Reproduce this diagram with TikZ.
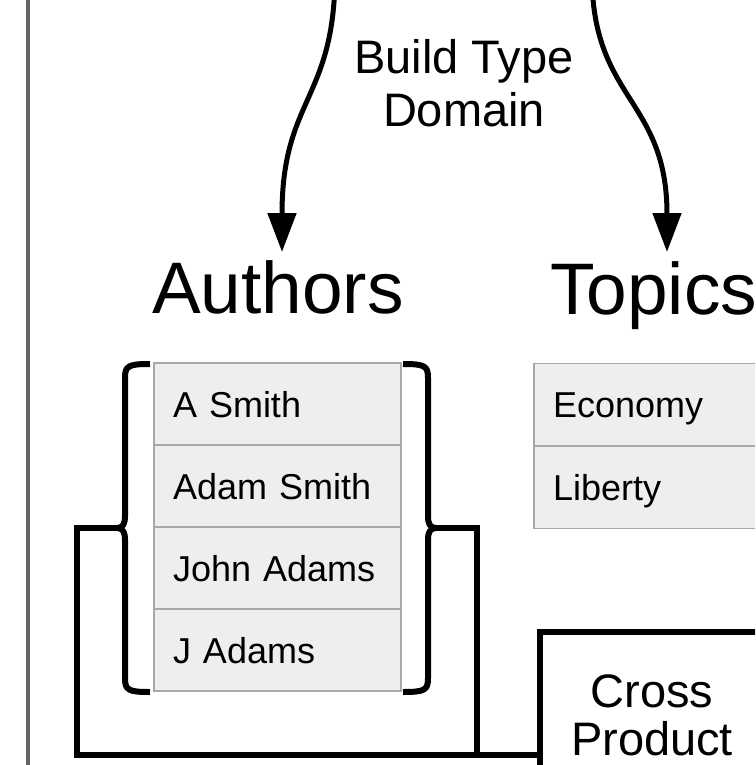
\documentclass[tikz,border=0pt]{standalone}
\usepackage{fontspec}
\setmainfont{Liberation Sans}
\usetikzlibrary{arrows.meta}
\definecolor{cellfill}{HTML}{EEEEEE}
\definecolor{cellline}{HTML}{A8A8A8}
\definecolor{divider}{HTML}{666666}
\begin{document}
\begin{tikzpicture}[x=1pt,y=-1pt,
  cell/.style={rectangle, draw=cellline, fill=cellfill, line width=1.5pt,
    minimum width=247pt, minimum height=82pt, text width=209pt,
    inner xsep=19pt, inner ysep=0pt, align=left,
    text height=26pt, text depth=0pt, font=\fontsize{36}{40}\selectfont},
  title/.style={inner sep=0pt, font=\fontsize{73}{80}\selectfont},
  lbl/.style={inner sep=0pt, align=center,
    font=\fontsize{47}{53}\selectfont},
  boxnode/.style={rectangle, draw, line width=5.5pt, minimum width=224pt,
    minimum height=176pt, inner sep=0pt, align=center,
    text height=84pt, text depth=14pt, font=\fontsize{47}{47.5}\selectfont},
  arr/.style={line width=5pt, -{Triangle[length=39pt,width=28pt]}},
  bracestyle/.style={line width=6pt},
  conn/.style={line width=5.5pt},
  divline/.style={draw=divider, line width=4pt}]
\useasboundingbox (0,0) rectangle (755,765);
\clip (0,0) rectangle (755,765);
\fill[white] (0,0) rectangle (755,765);

% divider
\draw[divline] (28,-5) -- (28,770);

% label and arrows
\node[lbl, anchor=base] (btd) at (464,127) {Build Type\\Domain};
\coordinate (srcL) at (335,-20);
\coordinate (srcR) at (592,-20);
\coordinate (tipL) at (282,252);
\coordinate (tipR) at (667,252);
\draw[arr] (srcL) .. controls (333,100) and (282,100) .. (tipL);
\draw[arr] (srcR) .. controls (594,100) and (667,100) .. (tipR);

% titles
\node[title, anchor=base west] (authors) at (152,313) {Authors};
\node[title, anchor=base west] (topics) at (550,314) {Topics};

% authors list
\node[cell] (a1) at (277.5,404) {A Smith};
\node[cell] (a2) at (277.5,486) {Adam Smith};
\node[cell] (a3) at (277.5,568) {John Adams};
\node[cell] (a4) at (277.5,650) {J Adams};

% topics list
\node[cell] (t1) at (657.5,404.5) {Economy};
\node[cell] (t2) at (657.5,487.5) {Liberty};

% brackets
\draw[bracestyle] (150,364) .. controls (128,364) and (125,366) .. (125,378)
  -- (125,516) .. controls (125,524) and (123,527) .. (118,528)
  .. controls (123,529) and (125,532) .. (125,540)
  -- (125,678) .. controls (125,690) and (128,692) .. (150,692);
\draw[bracestyle] (403,364) .. controls (425,364) and (428,366) .. (428,378)
  -- (428,516) .. controls (428,524) and (430,527) .. (435,528)
  .. controls (430,529) and (428,532) .. (428,540)
  -- (428,678) .. controls (428,690) and (425,692) .. (403,692);
\coordinate (lbtip) at (118,528);
\coordinate (rbtip) at (435,528);

% cross product box
\node[boxnode] (cross) at (652,720) {Cross\\Product};

% connectors
\draw[conn] (lbtip) -- ++(-41,0) |- (cross.west |- 0,755);
\draw[conn] (rbtip) -- ++(42,0) |- (cross.west |- 0,755);
\end{tikzpicture}
\end{document}
